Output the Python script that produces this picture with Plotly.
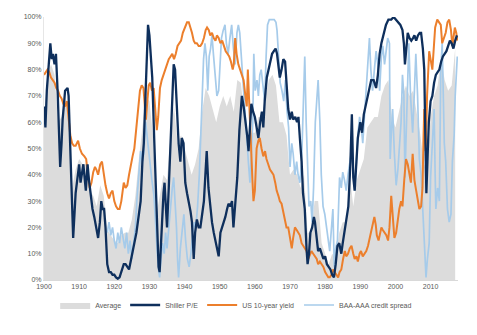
import plotly.graph_objects as go

# ---------------- data (percentile ranks, %) ----------------
avg_years = list(range(1900, 2018))
avg_vals = [62, 78, 82, 78, 60, 62, 70, 60, 35, 42, 46, 44, 44, 34, 32, 28, 36, 32, 19, 17,
            15, 14, 17, 18, 18, 23, 32, 46, 57, 70, 68, 55, 25, 32, 40, 38, 55, 66, 52, 55,
            50, 44, 40, 44, 50, 64, 73, 70, 65, 60, 66, 70, 66, 70, 64, 76, 75, 63, 55, 56,
            56, 62, 62, 70, 76, 78, 74, 60, 60, 55, 40, 42, 40, 35, 40, 18, 18, 30, 30, 14,
            10, 6, 10, 8, 18, 22, 22, 40, 28, 38, 42, 46, 58, 60, 62, 62, 70, 74, 76, 62,
            58, 64, 70, 74, 70, 72, 64, 56, 45, 40, 62, 70, 74, 84, 76, 72, 74, 88]

pe_years = [1900.0, 1900.4, 1900.8, 1901.5, 1901.8, 1902.2, 1902.5, 1903.0, 1903.4, 1903.9,
            1904.3, 1904.6, 1905.0, 1905.3, 1906.0, 1906.7, 1907.0, 1907.6, 1908.0, 1908.3,
            1909.0, 1909.5, 1910.0, 1910.4, 1911.2, 1911.9, 1912.4, 1912.8, 1913.3, 1913.8,
            1914.3, 1914.8, 1915.4, 1915.9, 1916.3, 1916.7, 1917.1, 1917.5, 1918.0, 1918.5,
            1919.0, 1919.5, 1920.0, 1920.5, 1921.0, 1921.5, 1922.0, 1922.7, 1923.2, 1923.7,
            1924.2, 1924.8, 1925.6, 1926.3, 1927.0, 1927.5, 1928.0, 1928.4, 1928.9, 1929.3,
            1929.6, 1930.0, 1930.4, 1930.8, 1931.4, 1931.8, 1932.2, 1932.6, 1932.9, 1933.3,
            1933.6, 1934.0, 1934.3, 1934.7, 1935.0, 1935.5, 1936.0, 1936.5, 1936.9, 1937.3,
            1937.7, 1938.3, 1938.8, 1939.2, 1939.7, 1940.2, 1940.7, 1941.2, 1941.7, 1942.1,
            1942.6, 1943.0, 1943.5, 1944.0, 1944.5, 1945.0, 1945.5, 1946.0, 1946.3, 1946.8,
            1947.3, 1947.8, 1948.3, 1948.7, 1949.2, 1949.7, 1950.2, 1950.7, 1951.2, 1951.6,
            1952.1, 1952.5, 1953.0, 1953.5, 1953.9, 1954.3, 1955.0, 1955.6, 1956.0, 1956.3,
            1956.8, 1957.3, 1957.8, 1958.2, 1958.6, 1959.0, 1959.5, 1960.0, 1960.5, 1961.0,
            1961.5, 1962.0, 1962.4, 1962.8, 1963.4, 1963.9, 1964.4, 1964.9, 1965.4, 1965.9,
            1966.3, 1966.7, 1967.1, 1967.6, 1968.1, 1968.6, 1969.0, 1969.5, 1970.0, 1970.5,
            1970.9, 1971.5, 1972.0, 1972.4, 1972.8, 1973.3, 1973.7, 1974.2, 1974.7, 1975.0,
            1975.4, 1975.8, 1976.3, 1976.8, 1977.1, 1977.6, 1978.0, 1978.5, 1979.0, 1979.5,
            1980.0, 1980.5, 1981.0, 1981.5, 1982.0, 1982.5, 1983.0, 1983.5, 1984.0, 1984.6,
            1985.0, 1985.6, 1986.0, 1986.6, 1987.2, 1987.6, 1988.0, 1988.4, 1988.9, 1989.3,
            1990.0, 1990.5, 1991.0, 1991.5, 1992.0, 1992.5, 1993.1, 1993.8, 1994.5, 1995.0,
            1995.5, 1996.0, 1996.5, 1997.3, 1998.0, 1998.8, 1999.5, 2000.2, 2000.8, 2001.4,
            2002.0, 2002.4, 2002.7, 2003.1, 2003.5, 2004.0, 2004.5, 2005.0, 2005.4, 2005.9,
            2006.4, 2006.9, 2007.3, 2007.8, 2008.2, 2008.5, 2008.8, 2009.1, 2009.5, 2010.0,
            2010.5, 2011.0, 2011.5, 2012.0, 2012.5, 2013.0, 2013.5, 2014.0, 2014.5, 2015.0,
            2015.5, 2016.0, 2016.5, 2017.0, 2017.5]
pe_vals = [66, 58, 72, 84, 90, 84, 86, 82, 86, 71,
           49, 43, 52, 61, 72, 73, 70, 48, 30, 16,
           33, 40, 44, 37, 44, 34, 44, 38, 32, 27,
           24, 20, 16, 22, 30, 27, 27, 20, 6, 3,
           3, 2, 2, 1, 0.5, 1, 3, 6, 6, 5,
           4, 8, 13, 18, 25, 30, 45, 52, 71, 90,
           97, 93, 85, 77, 52, 35, 16, 5, 3, 15,
           27, 33, 37, 25, 20, 35, 52, 70, 82, 80,
           68, 52, 45, 54, 52, 37, 33, 30, 26, 22,
           8, 18, 23, 20, 20, 25, 30, 42, 49, 35,
           28, 22, 18, 15, 12, 9, 18, 20, 22, 24,
           27, 29, 28, 30, 20, 28, 39, 57, 66, 70,
           66, 61, 55, 49, 60, 67, 64, 62, 58, 54,
           60, 64, 58, 68, 77, 80, 84, 86, 87, 88,
           86, 80, 77, 80, 84, 83, 75, 65, 61, 64,
           61, 62, 60, 62, 54, 45, 33, 27, 12, 6,
           10, 18, 20, 24, 22, 14, 11, 12, 10, 8,
           9, 6, 5, 4, 2, 1, 6, 13, 14, 10,
           14, 20, 24, 28, 45, 63, 39, 34, 45, 54,
           60, 56, 63, 66, 70, 72, 76, 76, 73, 78,
           86, 90, 93, 97, 99, 99, 100, 99, 98, 97,
           95, 90, 82, 90, 94, 92, 91, 92, 93, 91,
           93, 94, 94, 88, 80, 55, 33, 45, 60, 68,
           70, 75, 78, 79, 80, 83, 85, 86, 87, 89,
           91, 90, 88, 91, 93]

yld_years = [1900.0, 1900.5, 1901.0, 1901.5, 1902.0, 1902.5, 1903.0, 1903.5, 1904.0, 1904.5,
             1905.0, 1905.5, 1906.0, 1906.5, 1907.0, 1907.5, 1908.0, 1908.5, 1909.0, 1909.7,
             1910.2, 1910.8, 1911.5, 1912.0, 1912.5, 1913.0, 1913.5, 1914.0, 1914.5, 1914.9,
             1915.4, 1916.0, 1916.5, 1917.0, 1917.5, 1918.0, 1918.5, 1919.0, 1919.5, 1920.0,
             1920.5, 1921.0, 1921.5, 1922.0, 1922.7, 1923.2, 1923.7, 1924.2, 1924.7, 1925.2,
             1925.7, 1926.3, 1926.8, 1927.3, 1927.8, 1928.3, 1928.7, 1929.0, 1929.4, 1929.8,
             1930.2, 1930.7, 1931.2, 1931.7, 1932.1, 1932.5, 1933.0, 1933.5, 1934.0, 1934.5,
             1935.0, 1935.5, 1936.0, 1936.5, 1937.0, 1937.5, 1938.0, 1938.5, 1939.0, 1939.5,
             1940.0, 1940.7, 1941.2, 1941.7, 1942.1, 1942.6, 1943.0, 1943.5, 1944.0, 1944.5,
             1945.0, 1945.5, 1946.0, 1946.4, 1946.9, 1947.3, 1947.8, 1948.3, 1948.8, 1949.2,
             1949.7, 1950.2, 1950.7, 1951.2, 1951.7, 1952.2, 1952.7, 1953.2, 1953.7, 1954.0,
             1954.4, 1954.8, 1955.3, 1955.8, 1956.3, 1956.8, 1957.3, 1957.7, 1958.0, 1958.3,
             1958.6, 1959.0, 1959.3, 1959.6, 1960.0, 1960.5, 1961.0, 1961.4, 1961.9, 1962.4,
             1962.9, 1963.3, 1963.8, 1964.3, 1964.8, 1965.3, 1965.8, 1966.2, 1966.7, 1967.1,
             1967.6, 1968.1, 1968.6, 1969.0, 1969.5, 1970.0, 1970.5, 1970.9, 1971.4, 1971.9,
             1972.4, 1972.8, 1973.3, 1973.8, 1974.2, 1974.7, 1975.2, 1975.7, 1976.1, 1976.6,
             1977.1, 1977.6, 1978.0, 1978.5, 1979.0, 1979.5, 1980.0, 1980.4, 1980.9, 1981.3,
             1981.8, 1982.2, 1982.7, 1983.2, 1983.7, 1984.1, 1984.6, 1985.1, 1985.6, 1986.0,
             1986.5, 1987.0, 1987.5, 1988.0, 1988.4, 1988.9, 1989.3, 1989.8, 1990.2, 1990.7,
             1991.2, 1991.7, 1992.2, 1992.7, 1993.1, 1993.6, 1994.0, 1994.4, 1994.7, 1995.2,
             1995.7, 1996.0, 1996.4, 1996.9, 1997.4, 1997.9, 1998.3, 1998.8, 1999.2, 1999.7,
             2000.2, 2000.7, 2001.1, 2001.6, 2002.0, 2002.5, 2003.0, 2003.5, 2004.0, 2004.4,
             2004.9, 2005.4, 2005.9, 2006.3, 2006.8, 2007.3, 2007.7, 2008.0, 2008.2, 2008.6,
             2009.0, 2009.6, 2010.0, 2010.5, 2011.0, 2011.3, 2011.9, 2012.4, 2012.9, 2013.3,
             2013.8, 2014.3, 2014.8, 2015.3, 2015.8, 2016.2, 2016.6, 2016.9, 2017.3, 2017.6]
yld_vals = [78, 79, 80, 79, 77, 76, 75, 73, 72, 70,
            69, 67, 66, 68, 62, 55, 52, 51, 51, 53,
            50, 48, 47, 46, 40, 35, 37, 41, 43, 42,
            40, 44, 45, 40, 36, 33, 31, 33, 34, 30,
            28, 27, 27, 30, 37, 35, 36, 40, 44, 47,
            50, 58, 65, 72, 74, 73, 66, 61, 68, 74,
            75, 72, 73, 64, 57, 62, 73, 76, 78, 80,
            82, 84, 85, 86, 84, 86, 89, 90, 91, 94,
            96, 98, 98, 96, 94, 91, 90, 90, 89, 89,
            90, 92, 95, 96, 95, 93, 94, 92, 91, 93,
            92, 90, 91, 89, 87, 86, 85, 83, 80, 82,
            92, 86, 82, 80, 78, 76, 70, 66, 80, 68,
            60, 48, 38, 30, 34, 50, 53, 54, 50, 47,
            49, 46, 44, 42, 41, 40, 37, 34, 32, 30,
            29, 26, 23, 20, 20, 15, 12, 16, 20, 19,
            18, 17, 14, 13, 12, 11, 8, 10, 11, 10,
            9, 8, 6, 7, 6, 5, 3, 2, 1, 1,
            2, 4, 3, 2, 1, 3, 4, 8, 11, 9,
            10, 12, 13, 10, 8, 9, 7, 10, 11, 9,
            10, 11, 13, 16, 18, 22, 24, 21, 17, 15,
            18, 20, 19, 18, 17, 15, 20, 32, 24, 16,
            18, 24, 27, 30, 28, 38, 46, 44, 40, 37,
            48, 38, 34, 30, 27, 28, 35, 55, 65, 49,
            70, 87, 83, 80, 90, 96, 99, 98, 97, 90,
            92, 94, 98, 99, 95, 89, 93, 96, 94, 91]

spr_years = [1918.0, 1918.5, 1919.0, 1919.5, 1920.0, 1920.5, 1921.0, 1921.5, 1922.0, 1922.5,
             1923.0, 1923.5, 1924.0, 1924.5, 1925.0, 1925.5, 1926.0, 1926.5, 1927.0, 1927.5,
             1928.0, 1928.4, 1928.9, 1929.3, 1929.7, 1930.2, 1930.7, 1931.3, 1931.7, 1932.2,
             1932.6, 1932.9, 1933.3, 1933.7, 1934.2, 1934.6, 1935.0, 1935.5, 1936.0, 1936.5,
             1936.9, 1937.3, 1937.7, 1938.0, 1938.3, 1938.8, 1939.3, 1939.8, 1940.3, 1940.8,
             1941.3, 1941.8, 1942.3, 1942.8, 1943.2, 1943.7, 1944.2, 1944.7, 1945.0, 1945.4,
             1945.8, 1946.2, 1946.6, 1947.0, 1947.4, 1947.8, 1948.2, 1948.7, 1949.2, 1949.7,
             1950.1, 1950.5, 1951.0, 1951.5, 1951.9, 1952.4, 1952.9, 1953.4, 1953.9, 1954.4,
             1954.9, 1955.3, 1955.7, 1956.2, 1956.7, 1957.2, 1957.7, 1958.2, 1958.6, 1959.0,
             1959.4, 1959.7, 1960.1, 1960.6, 1961.0, 1961.4, 1961.8, 1962.3, 1962.8, 1963.2,
             1963.6, 1964.1, 1964.6, 1965.0, 1965.5, 1966.0, 1966.3, 1966.8, 1967.2, 1967.7,
             1968.2, 1968.7, 1969.1, 1969.6, 1970.0, 1970.5, 1970.9, 1971.4, 1971.9, 1972.3,
             1972.8, 1973.3, 1973.8, 1974.2, 1974.6, 1975.0, 1975.4, 1975.9, 1976.3, 1976.7,
             1977.2, 1977.6, 1978.0, 1978.5, 1978.9, 1979.4, 1979.9, 1980.4, 1980.8, 1981.3,
             1981.7, 1982.2, 1982.6, 1983.0, 1983.5, 1984.1, 1984.6, 1985.0, 1985.5, 1986.0,
             1986.5, 1987.0, 1987.5, 1988.0, 1988.4, 1988.9, 1989.3, 1989.8, 1990.3, 1990.7,
             1991.2, 1991.7, 1992.2, 1992.6, 1993.0, 1993.5, 1994.0, 1994.5, 1995.0, 1995.5,
             1996.0, 1996.4, 1996.9, 1997.4, 1997.8, 1998.3, 1998.5, 1998.8, 1999.2, 1999.7,
             2000.2, 2000.7, 2001.1, 2001.6, 2002.0, 2002.4, 2002.7, 2003.1, 2003.5, 2003.8,
             2004.3, 2004.9, 2005.4, 2005.8, 2006.3, 2006.8, 2007.3, 2007.7, 2008.2, 2008.7,
             2009.1, 2009.6, 2010.0, 2010.5, 2011.0, 2011.3, 2011.5, 2012.0, 2012.5, 2012.9,
             2013.3, 2013.9, 2014.3, 2014.8, 2015.3, 2015.8, 2016.2, 2016.7, 2017.0, 2017.6]
spr_vals = [18, 22, 17, 20, 15, 12, 18, 14, 20, 16,
            12, 18, 10, 15, 8, 14, 20, 32, 40, 49,
            45, 48, 60, 55, 50, 42, 38, 32, 20, 11,
            4, 1, 8, 14, 10, 18, 12, 20, 27, 35,
            39, 30, 20, 8, 1, 12, 20, 25, 15, 8,
            5, 10, 18, 22, 20, 28, 40, 60, 75, 84,
            90, 85, 72, 85, 88, 93, 86, 78, 70, 72,
            85, 92, 95, 97, 90, 86, 92, 97, 88, 82,
            94, 97, 94, 84, 71, 60, 52, 44, 37, 48,
            60, 86, 72, 76, 70, 78, 80, 74, 68, 85,
            97, 99, 99, 99, 99, 98, 95, 84, 75, 72,
            68, 76, 65, 58, 43, 52, 48, 40, 45, 40,
            37, 45, 70, 85, 60, 40, 28, 30, 22, 35,
            60, 68, 76, 60, 40, 28, 25, 20, 15, 11,
            18, 27, 5, 12, 15, 39, 35, 41, 38, 34,
            40, 45, 49, 42, 34, 45, 55, 62, 58, 52,
            63, 71, 85, 92, 80, 72, 80, 87, 82, 72,
            85, 89, 82, 87, 92, 90, 46, 55, 65, 48,
            36, 42, 52, 60, 78, 70, 39, 60, 80, 90,
            70, 56, 72, 86, 70, 46, 40, 30, 15, 1,
            8, 14, 39, 52, 65, 40, 27, 35, 30, 80,
            90, 52, 45, 27, 22, 25, 45, 55, 70, 85]

x_ticks = [1900, 1910, 1920, 1930, 1940, 1950, 1960, 1970, 1980, 1990, 2000, 2010]
x_tick_labels = ["1900", "1910", "1920", "1930", "1940", "1950", "1960", "1970", "1980", "1990", "2000", "2010"]
y_ticks = [0, 10, 20, 30, 40, 50, 60, 70, 80, 90, 100]
y_tick_labels = ["0%", "10%", "20%", "30%", "40%", "50%", "60%", "70%", "80%", "90%", "100%"]

# ---------------- figure ----------------
fig = go.Figure()
fig.add_trace(go.Scatter(x=avg_years, y=avg_vals, name="Average", mode="lines",
                         line=dict(width=0, color="#D9D9D9"), fill="tozeroy",
                         fillcolor="#DCDCDC", legend="legend"))
fig.add_trace(go.Scatter(x=spr_years, y=spr_vals, name="BAA-AAA credit spread", mode="lines",
                         line=dict(width=1.7, color="#A6CBEA"), legend="legend4"))
fig.add_trace(go.Scatter(x=yld_years, y=yld_vals, name="US 10-year yield", mode="lines",
                         line=dict(width=2, color="#EC7F2C"), legend="legend3"))
fig.add_trace(go.Scatter(x=pe_years, y=pe_vals, name="Shiller P/E", mode="lines",
                         line=dict(width=2.3, color="#0E2F5C"), legend="legend2"))

font_main = dict(family="Liberation Sans, Arial, sans-serif", size=7, color="#595959")


def leg(xpos):
    return dict(orientation="h", x=xpos, xanchor="left", y=-0.095, yanchor="middle",
                font=font_main, itemwidth=30, bgcolor="rgba(0,0,0,0)", borderwidth=0)


fig.update_layout(
    width=469, height=327,
    margin=dict(l=36, r=19, t=9, b=55, autoexpand=False),
    paper_bgcolor="white", plot_bgcolor="white",
    font=font_main,
    showlegend=True,
    legend=leg(0.027), legend2=leg(0.196), legend3=leg(0.382), legend4=leg(0.616),
)
fig.update_xaxes(range=[1900, 2017.8], tickvals=x_ticks, ticktext=x_tick_labels,
                 showgrid=False, zeroline=False, showline=True, linecolor="#D9D9D9",
                 linewidth=1, ticks="", tickfont=font_main, automargin=False)
fig.update_yaxes(range=[0, 100], tickvals=y_ticks, ticktext=y_tick_labels,
                 showgrid=False, zeroline=False, showline=True, linecolor="#E6E6E6",
                 linewidth=1, ticks="", tickfont=font_main, automargin=False)

fig.write_html("out.html")
